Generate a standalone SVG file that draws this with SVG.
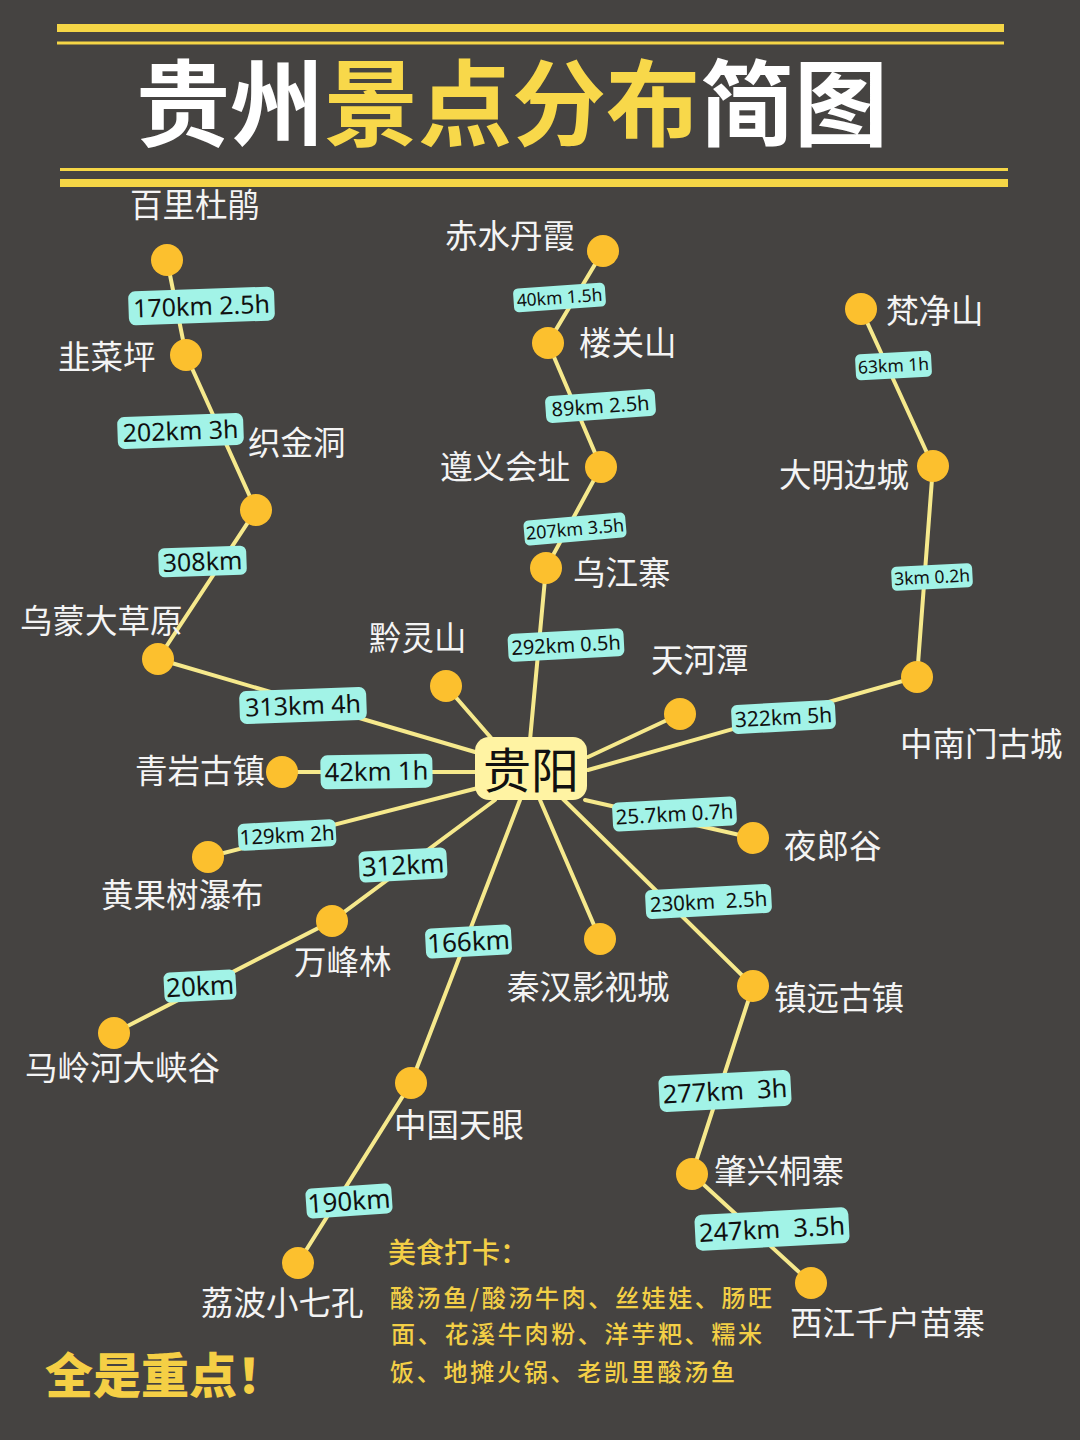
<svg xmlns="http://www.w3.org/2000/svg" width="1080" height="1440" viewBox="0 0 1080 1440">
<style>
.edge{stroke:#F6E98C;stroke-width:4;fill:none;stroke-linecap:round}
.dot{fill:#FCC02E}
.name{font-family:"Noto Sans CJK SC","Noto Sans",sans-serif;font-size:32.5px;fill:#F4F4F4}
.lbl rect{fill:#A2F3E7}
.lbl text{font-family:"Noto Sans","Open Sans",sans-serif;fill:#111;text-anchor:middle}
.bar{fill:#F5D646}
.food{font-family:"Noto Sans CJK SC",sans-serif;fill:#F3CF46;font-weight:500}
</style>
<rect width="1080" height="1440" fill="#454341"/>
<g id="title">
<rect class="bar" x="57" y="24" width="947" height="8"/>
<rect class="bar" x="57" y="41.5" width="947" height="3"/>
<rect class="bar" x="60" y="168" width="948" height="3"/>
<rect class="bar" x="60" y="179" width="948" height="8"/>
<text x="136" y="139" font-family="Noto Sans CJK SC, sans-serif" font-size="94" font-weight="700" textLength="752" lengthAdjust="spacing"><tspan fill="#FFFFFF">贵州</tspan><tspan fill="#F8D84A">景点分布</tspan><tspan fill="#FFFFFF">简图</tspan></text>
</g>
<g id="connectors">
<polyline class="edge" points="167,260 186,355 256,510 158,659 475,752"/>
<polyline class="edge" points="603,251 548,343 601,467 546,568 530,740"/>
<polyline class="edge" points="861,309 933,466 917,677 588,770"/>
<line class="edge" x1="680" y1="714" x2="588" y2="757"/>
<line class="edge" x1="446" y1="686" x2="492" y2="739"/>
<line class="edge" x1="282" y1="772" x2="476" y2="772"/>
<line class="edge" x1="208" y1="857" x2="478" y2="788"/>
<polyline class="edge" points="114,1033 332,921 495,800"/>
<polyline class="edge" points="298,1263 411,1083 520,800"/>
<line class="edge" x1="600" y1="939" x2="540" y2="800"/>
<line class="edge" x1="753" y1="838" x2="585" y2="800"/>
<polyline class="edge" points="811,1283 692,1174 753,986 562,798"/>
</g>
<g id="edge-labels" class="lbl">
<g transform="translate(201.5,306) rotate(-2)"><rect x="-73" y="-17" width="146" height="34" rx="7"/><text y="9" font-size="25">170km 2.5h</text></g>
<g transform="translate(180.5,431) rotate(-2)"><rect x="-63" y="-16" width="126" height="32" rx="7"/><text y="9" font-size="25">202km 3h</text></g>
<g transform="translate(202.5,561.5) rotate(-2)"><rect x="-44" y="-14.5" width="88" height="29" rx="6"/><text y="9" font-size="25">308km</text></g>
<g transform="translate(303,705.5) rotate(-2)"><rect x="-63.5" y="-16.5" width="127" height="33" rx="7"/><text y="9" font-size="25">313km 4h</text></g>
<g transform="translate(376.5,771.5) rotate(-1)"><rect x="-56" y="-17" width="112" height="34" rx="7"/><text y="9" font-size="25.5">42km 1h</text></g>
<g transform="translate(287,835) rotate(-3)"><rect x="-49" y="-13.5" width="98" height="27" rx="6"/><text y="7.4" font-size="20.5">129km 2h</text></g>
<g transform="translate(403,865) rotate(-3)"><rect x="-44" y="-15.5" width="88" height="31" rx="6"/><text y="9.4" font-size="26">312km</text></g>
<g transform="translate(200,986) rotate(-3)"><rect x="-36" y="-15" width="72" height="30" rx="6"/><text y="9.4" font-size="26">20km</text></g>
<g transform="translate(468.5,941.5) rotate(-3)"><rect x="-43" y="-15" width="86" height="30" rx="6"/><text y="9.4" font-size="26">166km</text></g>
<g transform="translate(349,1201) rotate(-4)"><rect x="-43" y="-15" width="86" height="30" rx="6"/><text y="9.4" font-size="26">190km</text></g>
<g transform="translate(559.5,297.5) rotate(-4)"><rect x="-46" y="-12" width="92" height="24" rx="5"/><text y="6.3" font-size="17.5">40km 1.5h</text></g>
<g transform="translate(600.5,406) rotate(-4)"><rect x="-55" y="-13.5" width="110" height="27" rx="6"/><text y="7.2" font-size="20">89km 2.5h</text></g>
<g transform="translate(575,529) rotate(-5)"><rect x="-51" y="-12.5" width="102" height="25" rx="5"/><text y="6.5" font-size="18">207km 3.5h</text></g>
<g transform="translate(566,645) rotate(-3)"><rect x="-58" y="-14" width="116" height="28" rx="6"/><text y="7.2" font-size="20">292km 0.5h</text></g>
<g transform="translate(893.5,365.5) rotate(-3)"><rect x="-38" y="-13" width="76" height="26" rx="5"/><text y="6.3" font-size="17.5">63km 1h</text></g>
<g transform="translate(932,577) rotate(-3)"><rect x="-40.5" y="-12" width="81" height="24" rx="5"/><text y="6.3" font-size="17.5">3km 0.2h</text></g>
<g transform="translate(783.5,717) rotate(-3)"><rect x="-52" y="-14.5" width="104" height="29" rx="6"/><text y="7.6" font-size="21">322km 5h</text></g>
<g transform="translate(674.5,814) rotate(-3)"><rect x="-62" y="-14.5" width="124" height="29" rx="6"/><text y="7.4" font-size="20.5">25.7km 0.7h</text></g>
<g transform="translate(708.5,901.5) rotate(-3)"><rect x="-63" y="-14.5" width="126" height="29" rx="6"/><text y="7.4" font-size="20.5">230km&#160; 2.5h</text></g>
<g transform="translate(725,1091) rotate(-3)"><rect x="-66" y="-18" width="132" height="36" rx="7"/><text y="9.2" font-size="25.5">277km&#160; 3h</text></g>
<g transform="translate(772,1229) rotate(-3)"><rect x="-77" y="-18" width="154" height="36" rx="7"/><text y="9.2" font-size="25.5">247km&#160; 3.5h</text></g>
</g>
<g id="node-baili"><circle class="dot" cx="167" cy="260" r="16"/><text class="name" x="130" y="217">百里杜鹃</text></g>
<g id="node-jiucai"><circle class="dot" cx="186" cy="355" r="16"/><text class="name" x="58" y="369">韭菜坪</text></g>
<g id="node-zhijin"><circle class="dot" cx="256" cy="510" r="16"/><text class="name" x="248" y="455">织金洞</text></g>
<g id="node-wumeng"><circle class="dot" cx="158" cy="659" r="16"/><text class="name" x="20" y="633">乌蒙大草原</text></g>
<g id="node-qianling"><circle class="dot" cx="446" cy="686" r="16"/><text class="name" x="369" y="650">黔灵山</text></g>
<g id="node-qingyan"><circle class="dot" cx="282" cy="772" r="16"/><text class="name" x="135" y="783">青岩古镇</text></g>
<g id="node-huangguoshu"><circle class="dot" cx="208" cy="857" r="16"/><text class="name" x="101" y="907">黄果树瀑布</text></g>
<g id="node-wanfeng"><circle class="dot" cx="332" cy="921" r="16"/><text class="name" x="294" y="974">万峰林</text></g>
<g id="node-malinghe"><circle class="dot" cx="114" cy="1033" r="16"/><text class="name" x="25" y="1080">马岭河大峡谷</text></g>
<g id="node-tianyan"><circle class="dot" cx="411" cy="1083" r="16"/><text class="name" x="394" y="1137">中国天眼</text></g>
<g id="node-libo"><circle class="dot" cx="298" cy="1263" r="16"/><text class="name" x="201" y="1315">荔波小七孔</text></g>
<g id="node-qinhan"><circle class="dot" cx="600" cy="939" r="16"/><text class="name" x="507" y="999">秦汉影视城</text></g>
<g id="node-zhenyuan"><circle class="dot" cx="753" cy="986" r="16"/><text class="name" x="774" y="1010">镇远古镇</text></g>
<g id="node-zhaoxing"><circle class="dot" cx="692" cy="1174" r="16"/><text class="name" x="714" y="1183">肇兴桐寨</text></g>
<g id="node-xijiang"><circle class="dot" cx="811" cy="1283" r="16"/><text class="name" x="790" y="1335">西江千户苗寨</text></g>
<g id="node-yelang"><circle class="dot" cx="753" cy="838" r="16"/><text class="name" x="784" y="858">夜郎谷</text></g>
<g id="node-tianhe"><circle class="dot" cx="680" cy="714" r="16"/><text class="name" x="651" y="672">天河潭</text></g>
<g id="node-zhongnanmen"><circle class="dot" cx="917" cy="677" r="16"/><text class="name" x="900" y="756">中南门古城</text></g>
<g id="node-daming"><circle class="dot" cx="933" cy="466" r="16"/><text class="name" x="779" y="487">大明边城</text></g>
<g id="node-fanjing"><circle class="dot" cx="861" cy="309" r="16"/><text class="name" x="886" y="323">梵净山</text></g>
<g id="node-louguan"><circle class="dot" cx="548" cy="343" r="16"/><text class="name" x="579" y="355">楼关山</text></g>
<g id="node-zunyi"><circle class="dot" cx="601" cy="467" r="16"/><text class="name" x="440" y="479">遵义会址</text></g>
<g id="node-chishui"><circle class="dot" cx="603" cy="251" r="16"/><text class="name" x="445" y="248">赤水丹霞</text></g>
<g id="node-wujiang"><circle class="dot" cx="546" cy="568" r="16"/><text class="name" x="573" y="585">乌江寨</text></g>
<g id="node-guiyang"><rect x="475" y="737" width="112" height="63" rx="14" fill="#FFF3A3"/><text x="531" y="788" text-anchor="middle" font-family="Noto Sans CJK SC, sans-serif" font-size="48" fill="#111">贵阳</text></g>
<g id="food">
<text class="food" x="388" y="1263" font-size="28">美食打卡：</text>
<text class="food" x="390" y="1307" font-size="24" textLength="382" lengthAdjust="spacing">酸汤鱼/酸汤牛肉、丝娃娃、肠旺</text>
<text class="food" x="391" y="1343" font-size="24" textLength="371" lengthAdjust="spacing">面、花溪牛肉粉、洋芋粑、糯米</text>
<text class="food" x="390" y="1381" font-size="24" textLength="345" lengthAdjust="spacing">饭、地摊火锅、老凯里酸汤鱼</text>
</g>
<text id="slogan" x="45" y="1393" font-family="Noto Sans CJK SC, sans-serif" font-size="48" font-weight="900" fill="#F5CF45">全是重点！</text>
</svg>
